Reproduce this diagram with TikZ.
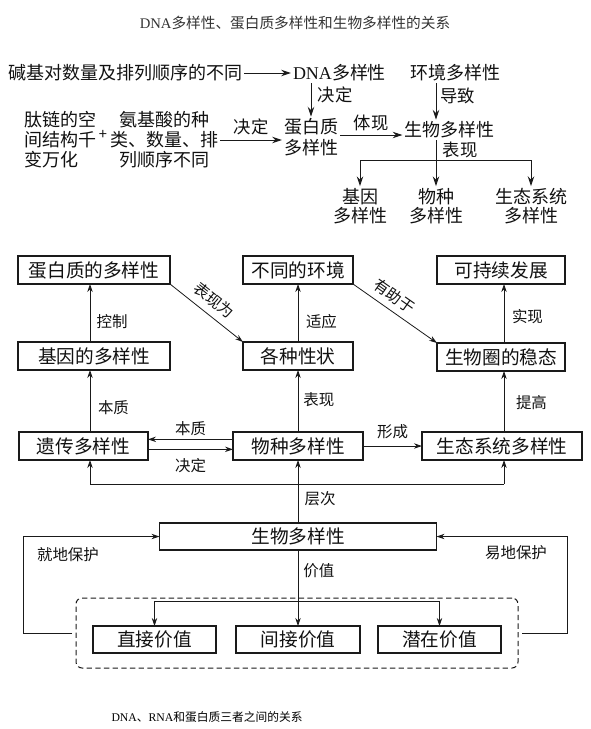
\documentclass[tikz,border=0pt]{standalone}
\usepackage{fontspec}
\setmainfont{Noto Sans CJK SC}
\newfontfamily\latina{Liberation Serif}
\usepackage{tikz}
\usetikzlibrary{positioning,arrows.meta}
\tikzset{bdpx/.style={x=0.75pt,y=-0.75pt,every node/.style={inner sep=0pt,outer sep=0pt,anchor=center,align=center}}}
\definecolor{bdlinha}{HTML}{1A1A1A}
\definecolor{bdtexto}{HTML}{111111}
\definecolor{bdtitulo}{HTML}{333333}
\tikzset{
  caixa/.style={draw=bdlinha,line width=0.8pt,fill=white,text=bdtexto,font=\fontsize{14}{16}\selectfont,minimum height=21pt},
  termo/.style={text=bdtexto,font=\fontsize{13.5}{15}\selectfont,inner sep=1.5pt},
  rotg/.style={text=bdtexto,font=\fontsize{13}{15}\selectfont},
  rot/.style={text=bdtexto,font=\fontsize{11.6}{13}\selectfont},
  seta/.style={draw=bdlinha,line width=0.6pt,-{Stealth[length=2.1mm,width=1.4mm]}},
  setag/.style={draw=bdlinha,line width=0.7pt,-{Stealth[length=2.6mm,width=1.7mm]}},
  liga/.style={draw=bdlinha,line width=0.6pt},
  moldura/.style={draw=bdlinha,line width=0.75pt,dash pattern=on 4pt off 2.5pt,rounded corners=4.5pt},
}

\begin{document}
\begin{tikzpicture}[bdpx]
  \useasboundingbox (0,0) rectangle (591,729);
  \node[text=bdtitulo,font=\fontsize{11}{13}\selectfont] (titulo) at (295,23) {{\latina DNA}多样性、蛋白质多样性和生物多样性的关系};
  % DNA, proteina e biodiversidade
  \node[termo,anchor=west] (bases) at (6,73) {碱基对数量及排列顺序的不同};
  \node[termo,anchor=west] (dna) at (291,73) {{\latina DNA}多样性};
  \node[termo,anchor=west] (ambv) at (408,73) {环境多样性};
  \node[termo,align=left,anchor=west] (pept) at (22,140) {肽链的空\\间结构千\\变万化};
  \node[termo,font=\fontsize{11}{13}\selectfont] (mais) at (103,135) {+};
  \node[termo] (amin) at (164,140) {氨基酸的种\\类、数量、排\\列顺序不同};
  \node[termo,font=\fontsize{13.5}{15.75}\selectfont] (protv) at (311,137.5) {蛋白质\\多样性};
  \node[termo] (biov) at (449.5,130) {生物多样性};
  \node[termo,font=\fontsize{13.5}{14.25}\selectfont] (gen2) at (360,206) {基因\\多样性};
  \node[termo,font=\fontsize{13.5}{14.25}\selectfont] (esp2) at (436,206) {物种\\多样性};
  \node[termo,font=\fontsize{13.5}{14.25}\selectfont] (eco2) at (531,206) {生态系统\\多样性};
  \coordinate (colE) at (436,0);
  \coordinate (galho) at (0,160);
  \coordinate (pontaB) at ([yshift=-3.75pt]biov.west);
  \draw[setag] (bases) -- (dna);
  \draw[setag] (dna.south -| protv.north) -- (protv.north) node[rotg,pos=0.35,right=5pt] {决定};
  \draw[setag] (ambv.south -| colE) -- (biov.north -| colE) node[rotg,pos=0.35,right=3pt] {导致};
  \draw[setag] (protv.east |- pontaB) -- (pontaB) node[rotg,midway,above=3pt] {体现};
  \draw[setag] (amin.east) -- (amin.east -| protv.west) node[rotg,midway,above=4pt] {决定};
  \draw[liga] (biov.south -| colE) -- (colE |- galho) node[rotg,midway,right=5pt] {表现};
  \draw[liga] (gen2.north |- galho) -- (eco2.north |- galho);
  \foreach \n in {gen2,esp2,eco2} \draw[setag] (\n.north |- galho) -- (\n.north);
  % mapa conceitual
  \node[caixa,minimum width=114pt] (prot) at (94,270) {蛋白质的多样性};
  \node[caixa,minimum width=82.5pt] (amb) at (298,270) {不同的环境};
  \node[caixa,minimum width=96pt] (sust) at (501,270) {可持续发展};
  \node[caixa,minimum width=114pt] (gene) at (94,356) {基因的多样性};
  \node[caixa,minimum width=82.5pt] (trait) at (298,356) {各种性状};
  \node[caixa,minimum width=96pt] (bios) at (501,357) {生物圈的稳态};
  \node[caixa,minimum width=96.75pt] (genet) at (83.5,446) {遗传多样性};
  \node[caixa,minimum width=97.5pt] (spec) at (298,446) {物种多样性};
  \node[caixa,minimum width=120pt] (eco) at (502,446) {生态系统多样性};
  \node[caixa,minimum width=207.75pt,minimum height=20.25pt] (bio) at (298,536.5) {生物多样性};
  \node[moldura,minimum width=331.5pt,minimum height=52.5pt] (quadro) at (297,633) {};
  \node[caixa,minimum width=92.25pt,minimum height=20.25pt] (vdir) at (154.5,639.5) {直接价值};
  \node[caixa,minimum width=93pt,minimum height=20.25pt] (vind) at (298,639.5) {间接价值};
  \node[caixa,minimum width=92.25pt,minimum height=20.25pt] (vpot) at (439.5,639.5) {潜在价值};
  \coordinate (colA) at (90,0);
  \coordinate (colC) at (504,0);
  \coordinate (nivel) at (0,484);
  \coordinate (ramo) at (0,601);
  \coordinate (esqx) at (23,0);
  \coordinate (dirx) at (567,0);
  \draw[seta] (gene.north -| colA) -- (prot.south -| colA) node[rot,pos=0.35,right=5pt] {控制};
  \draw[seta] (prot.south east) -- (trait.north west) node[rot,sloped,pos=0.48,above=5.5pt] {表现为};
  \draw[seta] (trait) -- (amb) node[rot,pos=0.35,right=6pt] {适应};
  \draw[seta] (amb.south east) -- (bios.north west) node[rot,sloped,pos=0.4,above=5pt] {有助于};
  \draw[seta] (bios.north -| colC) -- (sust.south -| colC) node[rot,pos=0.45,right=6pt] {实现};
  \draw[seta] (genet.north -| colA) -- (gene.south -| colA) node[rot,pos=0.4,right=6pt] {本质};
  \draw[seta] (spec) -- (trait) node[rot,pos=0.53,right=4pt] {表现};
  \draw[seta] (eco.north -| colC) -- (bios.south -| colC) node[rot,pos=0.49,right=9pt] {提高};
  \draw[seta] ([yshift=5pt]spec.west) -- ([yshift=5pt]genet.east) node[rot,midway,above=3pt] {本质};
  \draw[seta] ([yshift=-2.5pt]genet.east) -- ([yshift=-2.5pt]spec.west) node[rot,midway,below=7pt] {决定};
  \draw[seta] (spec) -- (eco) node[rot,midway,above=5pt] {形成};
  \draw[seta] (bio) -- (spec) node[rot,pos=0.38,right=5pt] {层次};
  \draw[liga] (colA |- nivel) -- (colC |- nivel);
  \draw[seta] (colA |- nivel) -- (genet.south -| colA);
  \draw[seta] (colC |- nivel) -- (eco.south -| colC);
  \draw[liga] (bio.south) -- (bio.south |- ramo) node[rot,pos=0.4,right=4pt] {价值};
  \draw[liga] (vdir.north |- ramo) -- (vpot.north |- ramo);
  \foreach \v in {vdir,vind,vpot} \draw[seta] (\v.north |- ramo) -- (\v.north);
  \draw[seta] ([xshift=-3pt]quadro.west) -- (esqx |- quadro.west) |- (bio.west);
  \draw[seta] ([xshift=3pt]quadro.east) -- (dirx |- quadro.east) |- (bio.east);
  \node[rot] (jdbh) at (68,555) {就地保护};
  \node[rot] (ydbh) at (516,553) {易地保护};
  \node[font=\fontsize{8.8}{10}\selectfont] (legenda) at (207,717) {{\latina DNA}、{\latina RNA}和蛋白质三者之间的关系};
\end{tikzpicture}
\end{document}
